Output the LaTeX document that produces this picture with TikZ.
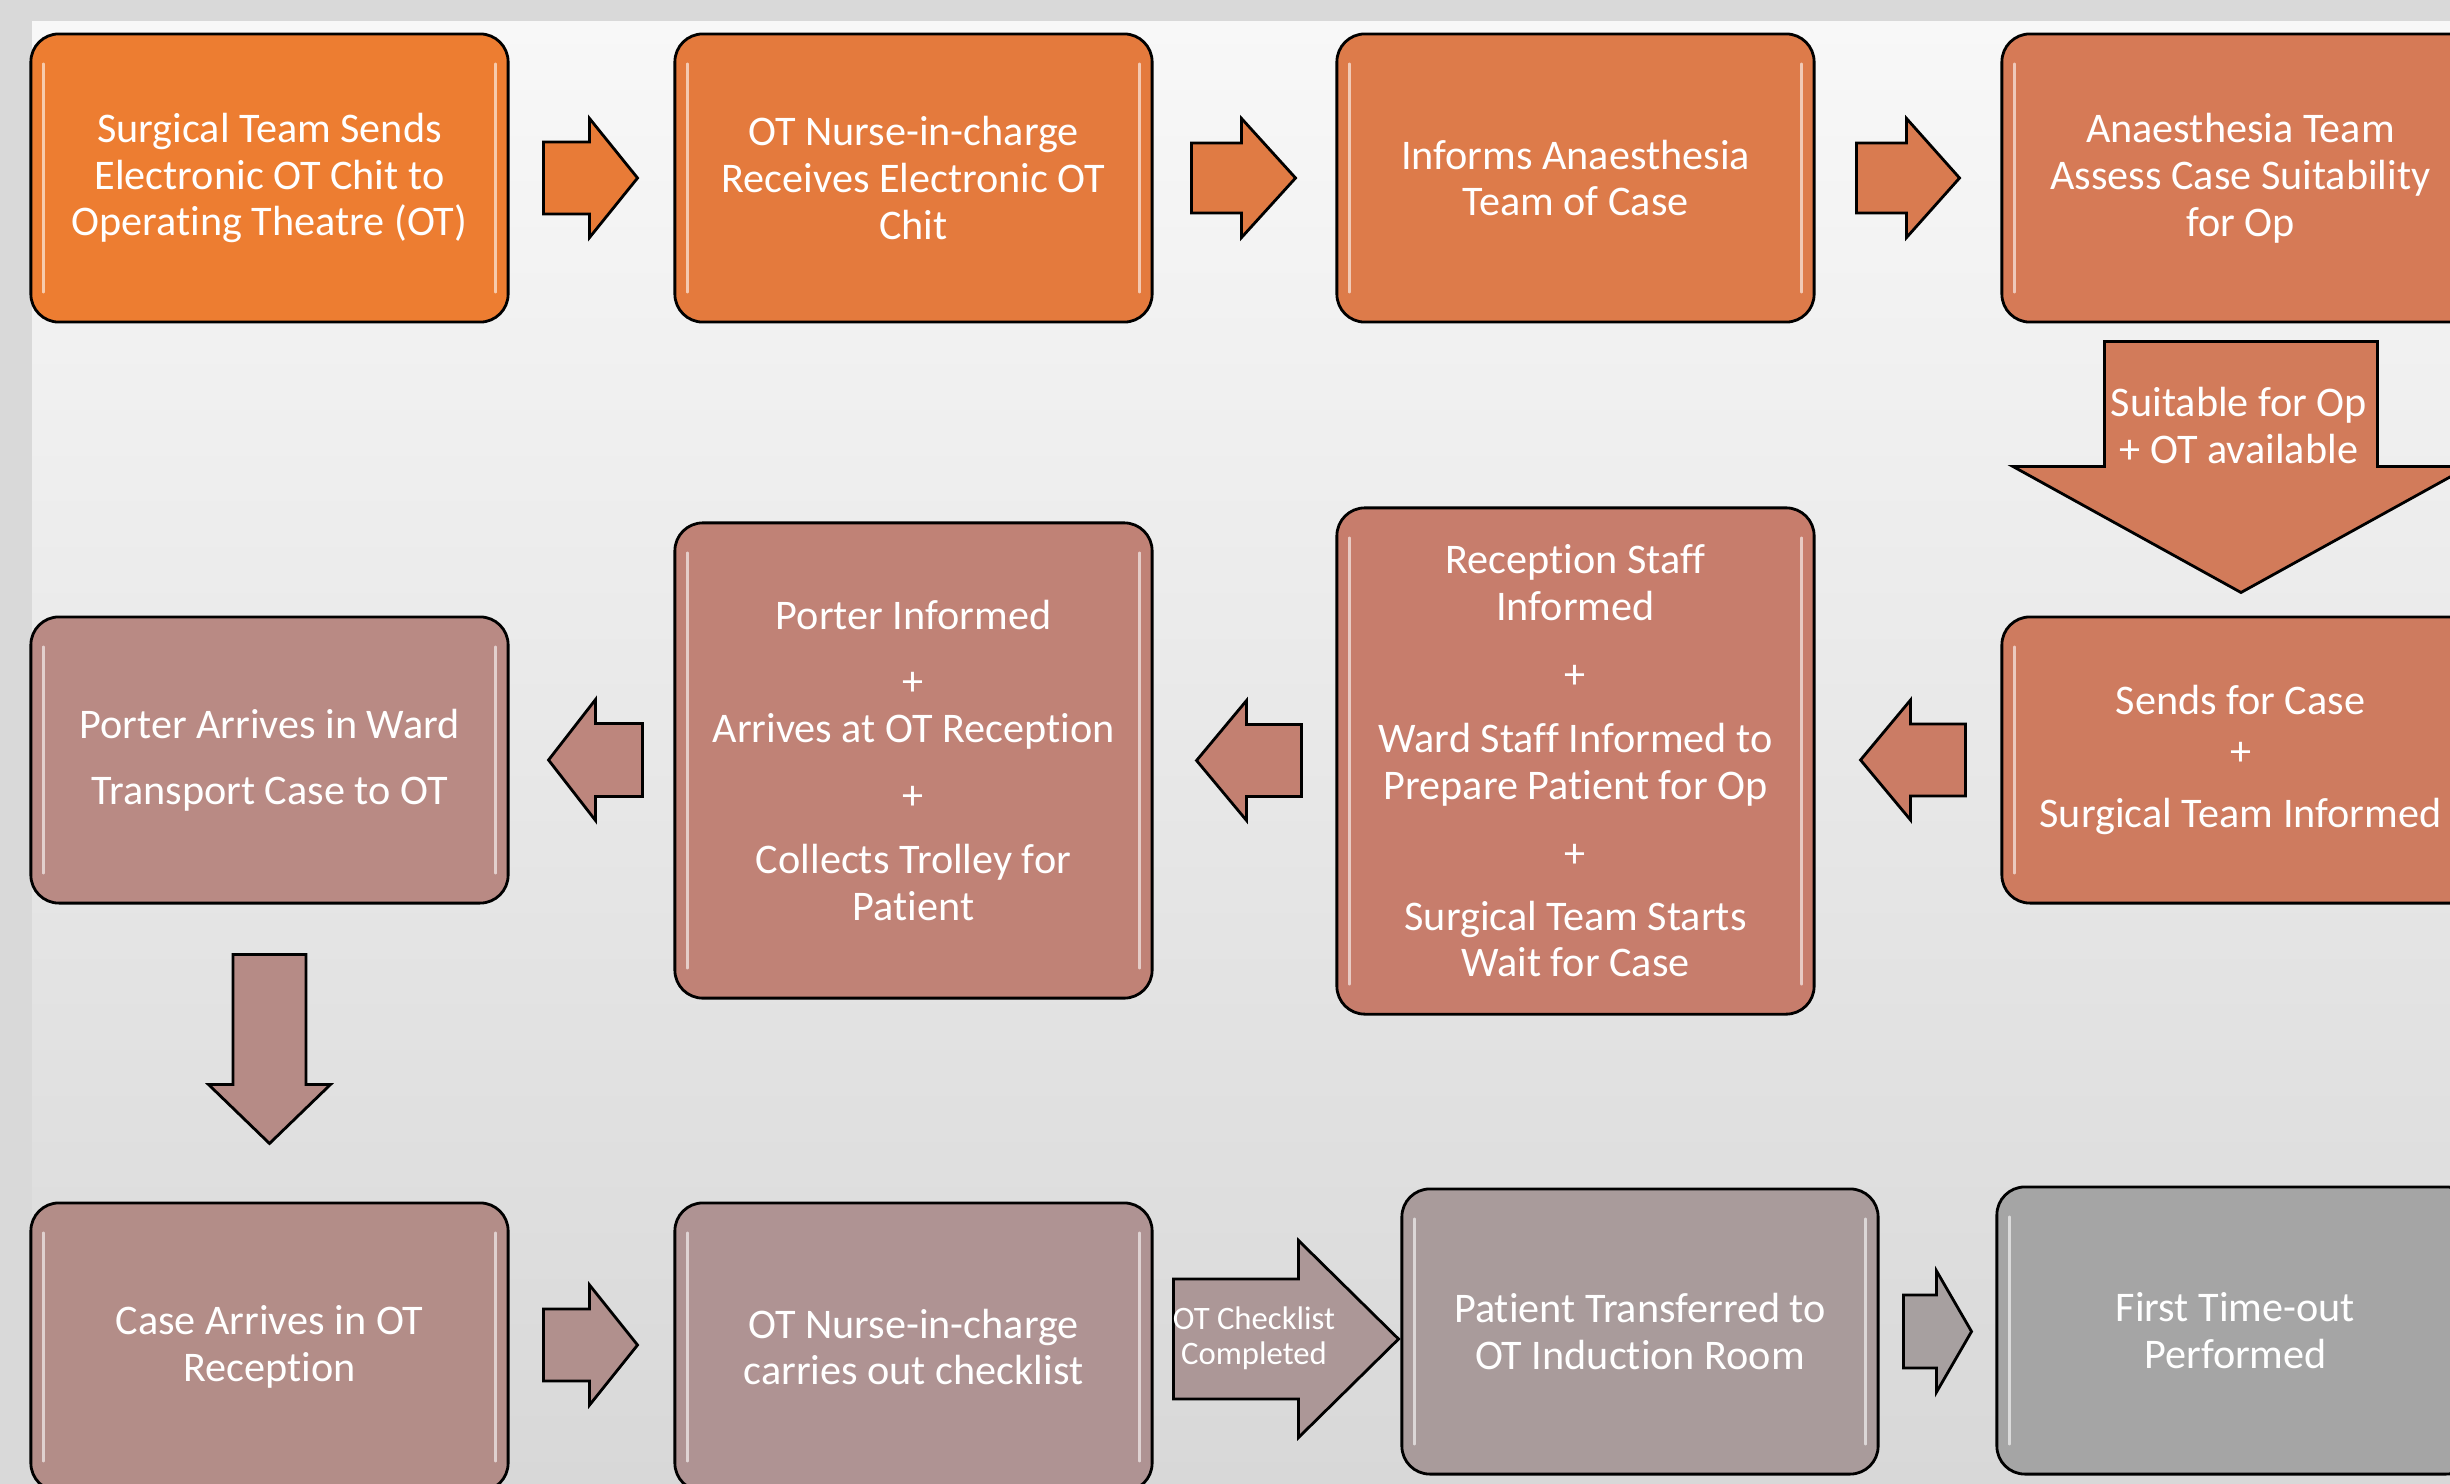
\documentclass[tikz,border=0pt]{standalone}
\usepackage{fontspec}
\setmainfont{Carlito}[Ligatures=NoCommon]
\usetikzlibrary{calc}
\definecolor{bandgray}{HTML}{D9D9D9}
\definecolor{bgtop}{HTML}{F8F8F8}
\definecolor{bgbot}{HTML}{D8D8D8}
\definecolor{cA}{HTML}{ED7D31}
\definecolor{cB}{HTML}{E47A3D}
\definecolor{cC}{HTML}{DD7B4A}
\definecolor{cD}{HTML}{D67A56}
\definecolor{cE}{HTML}{CE7B5F}
\definecolor{cF}{HTML}{C77D6C}
\definecolor{cG}{HTML}{C08276}
\definecolor{cH}{HTML}{B98A84}
\definecolor{cI}{HTML}{B38D88}
\definecolor{cJ}{HTML}{AF9393}
\definecolor{cK}{HTML}{A99B9B}
\definecolor{cL}{HTML}{A5A5A5}
\newcommand\BoxFont{\fontsize{12}{13.3}\selectfont}
\newcommand\SmallFont{\fontsize{9.3}{10}\selectfont}
\tikzset{
  box/.style={draw=black, line width=0.8pt, rounded corners=0.28cm,
    minimum width=4.77cm, minimum height=2.88cm, text=white, align=center,
    font=\BoxFont, inner sep=0pt},
  blk/.style={draw=black, line width=0.8pt, line join=miter},
  gloss/.style={white, opacity=0.6, line width=1.1pt, line cap=round},
  lbl/.style={text=white, align=center, font=\BoxFont, inner sep=0pt}
}
% block arrows: #1 centre, #2 length, #3 shaft length, #4 shaft half, #5 head half, #6 colour
\newcommand\BlkRight[6]{%
  \begin{scope}[shift={#1}]
    \filldraw[blk, fill=#6] (-#2/2,-#4) -- (-#2/2+#3,-#4) -- (-#2/2+#3,-#5) -- (#2/2,0)
      -- (-#2/2+#3,#5) -- (-#2/2+#3,#4) -- (-#2/2,#4) -- cycle;
  \end{scope}}
\newcommand\BlkLeft[6]{%
  \begin{scope}[shift={#1}]
    \filldraw[blk, fill=#6] (#2/2,-#4) -- (#2/2-#3,-#4) -- (#2/2-#3,-#5) -- (-#2/2,0)
      -- (#2/2-#3,#5) -- (#2/2-#3,#4) -- (#2/2,#4) -- cycle;
  \end{scope}}
\newcommand\BlkDown[6]{%
  \begin{scope}[shift={#1}]
    \filldraw[blk, fill=#6] (-#4,-#2/2) -- (-#4,-#2/2+#3) -- (-#5,-#2/2+#3) -- (0,#2/2)
      -- (#5,-#2/2+#3) -- (#4,-#2/2+#3) -- (#4,-#2/2) -- cycle;
  \end{scope}}
\newcommand\Gloss[1]{%
  \draw[gloss] ($(#1.north west)+(14,32)$) -- ($(#1.south west)+(14,-32)$);
  \draw[gloss] ($(#1.north east)+(-14,32)$) -- ($(#1.south east)+(-14,-32)$);}
\begin{document}
\begin{tikzpicture}[x=0.01cm,y=-0.01cm]
\useasboundingbox (0,0) rectangle (2450,1484);
\clip (0,0) rectangle (2450,1484);
\fill[bandgray] (0,0) rectangle (2450,1484);
\shade[top color=bgtop, bottom color=bgbot] (32,21) rectangle (2450,1484);

% row 1
\node[box, fill=cA] (b1) at (269.5,178) {Surgical Team Sends\\Electronic OT Chit to\\Operating Theatre (OT)};
\node[box, fill=cB] (b2) at (913.5,178) {OT Nurse-in-charge\\Receives Electronic OT\\Chit};
\node[box, fill=cC] (b3) at (1575.5,178) {Informs Anaesthesia\\Team of Case};
\node[box, fill=cD] (b4) at (2240.5,178) {Anaesthesia Team\\Assess Case Suitability\\for Op};
% row 2
\node[box, fill=cE, minimum height=2.86cm] (b5) at (2240.5,760) {Sends for Case\\[1pt]+\\[4.3pt]Surgical Team Informed};
\node[box, fill=cF, minimum height=5.06cm] (b6) at (1575.5,761) {Reception Staff\\Informed\\[6pt]+\\[5pt]Ward Staff Informed to\\Prepare Patient for Op\\[6pt]+\\[4.5pt]Surgical Team Starts\\Wait for Case};
\node[box, fill=cG, minimum height=4.75cm] (b7) at (913.5,760.5) {Porter Informed\\[5.4pt]+\\Arrives at OT Reception\\[5.7pt]+\\[5pt]Collects Trolley for\\Patient};
\node[box, fill=cH, minimum height=2.86cm] (b8) at (269.5,760) {Porter Arrives in Ward\\[5.4pt]Transport Case to OT};
% row 3
\node[box, fill=cI] (b9) at (269.5,1347) {Case Arrives in OT\\Reception};
\node[box, fill=cJ] (b10) at (913.5,1347) {OT Nurse-in-charge\\carries out checklist};
\node[box, fill=cK, minimum width=4.76cm, minimum height=2.85cm] (b11) at (1640,1331.5) {Patient Transferred to\\OT Induction Room};
\node[box, fill=cL, minimum height=2.87cm] (b12) at (2235.5,1330.5) {First Time-out\\Performed};

\foreach \n in {b1,b2,b3,b4,b5,b6,b7,b8,b9,b10,b11,b12} {\Gloss{\n}}

% connectors (block arrows)
\BlkRight{($(b1.east)+(81,0)$)}{94}{46}{36}{59.5}{cA!50!cB}
\BlkRight{($(b2.east)+(90,0)$)}{104}{50}{35}{59.5}{cB!50!cC}
\BlkRight{($(b3.east)+(92.5,0)$)}{103}{50}{35}{59.5}{cC!50!cD}
\BlkDown{($(b4.south)+(0.5,143.5)$)}{251}{125}{136.5}{228}{cD!50!cE}
\node[lbl] (t1) at (2239,425.5) {Suitable for Op\\+ OT available};
\BlkLeft{($(b6.east)+(97.5,-1)$)}{105}{55}{36}{60}{cE!50!cF}
\BlkLeft{($(b7.east)+(95.5,0)$)}{105}{55}{36}{60}{cF!50!cG}
\BlkLeft{($(b8.east)+(86,0)$)}{94}{47}{36.5}{60.5}{cG!50!cH}
\BlkDown{($(b8.south)+(0,144.5)$)}{189}{130}{36.5}{61}{cH!50!cI}
\BlkRight{($(b9.east)+(81,-2)$)}{94}{46}{36}{60}{cI!50!cJ}
\BlkRight{($(b10.east)+(132.5,-8)$)}{225}{125}{60}{98.5}{cJ!50!cK}
\node[lbl, font=\SmallFont] (t2) at (1254,1338) {OT Checklist\\Completed};
\BlkRight{($(b11.east)+(58,0)$)}{68}{33}{36.5}{60.5}{cK!50!cL}
\end{tikzpicture}
\end{document}
